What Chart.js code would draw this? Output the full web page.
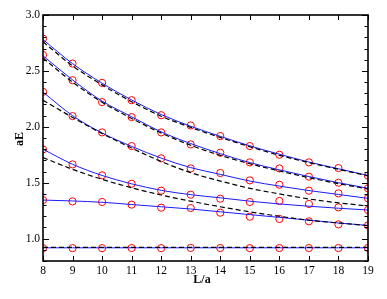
<!DOCTYPE html>
<html>
<head>
<meta charset="utf-8">
<script src="https://cdn.jsdelivr.net/npm/chart.js@4/dist/chart.umd.min.js"></script>
<style>
  body { margin: 0; background: #fff; }
  canvas { display: block; }
</style>
</head>
<body>
<canvas id="levels" width="387" height="299"></canvas>
<script>
// lattice sizes L/a
var sizes = [8, 9, 10, 11, 12, 13, 14, 15, 16, 17, 18, 19];

// measured energies (red circles), one list per level
var levelA = [2.789, 2.566, 2.393, 2.238, 2.104, 2.012, 1.917, 1.828, 1.750, 1.682, 1.631, 1.563];
var levelB = [2.643, 2.417, 2.221, 2.087, 1.950, 1.843, 1.768, 1.682, 1.628, 1.554, 1.500, 1.450];
var levelC = [2.313, 2.096, 1.950, 1.828, 1.718, 1.628, 1.587, 1.521, 1.482, 1.429, 1.405, 1.360];
var levelD = [1.798, 1.664, 1.566, 1.491, 1.429, 1.393, 1.357, 1.328, 1.337, 1.310, 1.280, 1.256];
var levelE = [1.345, 1.333, 1.328, 1.304, 1.277, 1.274, 1.232, 1.196, 1.176, 1.155, 1.128, 1.118];
var levelF = [0.915, 0.915, 0.915, 0.916, 0.915, 0.917, 0.916, 0.915, 0.916, 0.916, 0.916, 0.917];

// fitted curves (blue)
var fitA = [2.780, 2.565, 2.390, 2.240, 2.110, 2.005, 1.915, 1.830, 1.755, 1.685, 1.625, 1.565];
var fitB = [2.635, 2.420, 2.230, 2.090, 1.955, 1.850, 1.760, 1.680, 1.615, 1.555, 1.500, 1.450];
var fitC = [2.310, 2.100, 1.945, 1.825, 1.720, 1.635, 1.575, 1.515, 1.470, 1.430, 1.395, 1.360];
var fitD = [1.800, 1.665, 1.565, 1.490, 1.432, 1.393, 1.365, 1.335, 1.310, 1.290, 1.272, 1.256];
var fitE = [1.345, 1.337, 1.325, 1.305, 1.285, 1.265, 1.240, 1.215, 1.190, 1.165, 1.140, 1.118];
var fitF = [0.918, 0.918, 0.918, 0.918, 0.918, 0.918, 0.918, 0.918, 0.918, 0.918, 0.918, 0.918];

// dashed reference curves (black)
var dashA = [2.760, 2.545, 2.375, 2.225, 2.095, 1.995, 1.905, 1.822, 1.745, 1.680, 1.620, 1.562];
var dashB = [2.615, 2.400, 2.220, 2.075, 1.945, 1.835, 1.745, 1.670, 1.605, 1.545, 1.492, 1.445];
var dashC = [2.238, 2.084, 1.940, 1.810, 1.690, 1.590, 1.515, 1.450, 1.400, 1.355, 1.320, 1.292];
var dashD = [1.725, 1.620, 1.530, 1.455, 1.390, 1.335, 1.285, 1.240, 1.200, 1.165, 1.140, 1.116];
var dashF = [0.922, 0.922, 0.922, 0.922, 0.922, 0.922, 0.922, 0.922, 0.922, 0.922, 0.922, 0.922];

var yTicks = [1.0, 1.5, 2.0, 2.5, 3.0];

function pts(arr) {
    return sizes.map((x, i) => ({ x: x, y: arr[i] }));
}

function circles(arr) {
    return {
        data: pts(arr),
        showLine: false,
        pointStyle: 'circle',
        pointRadius: 3.6,
        pointBorderWidth: 1,
        pointBorderColor: '#ff0000',
        pointBackgroundColor: 'rgba(0,0,0,0)',
    };
}

function fit(arr) {
    return {
        data: pts(arr),
        showLine: true,
        borderColor: '#1a1aff',
        borderWidth: 1,
        pointRadius: 0,
        cubicInterpolationMode: 'monotone',
    };
}

function dashed(arr) {
    return {
        data: pts(arr),
        showLine: true,
        borderColor: '#000000',
        borderWidth: 1.2,
        borderDash: [5, 3],
        pointRadius: 0,
        cubicInterpolationMode: 'monotone',
    };
}

// frame, inward ticks and axis titles
const frame = {
    id: 'frame',
    afterDatasetsDraw(chart) {
        const ctx = chart.ctx;
        const a = chart.chartArea;
        const xs = chart.scales.x;
        const ys = chart.scales.y;
        ctx.save();
        ctx.strokeStyle = '#000';
        ctx.lineWidth = 1;
        ctx.beginPath();
        for (let v = 8; v <= 19; v++) {
            const px = Math.round(xs.getPixelForValue(v)) + 0.5;
            ctx.moveTo(px, a.bottom); ctx.lineTo(px, a.bottom - 5);
            ctx.moveTo(px, a.top); ctx.lineTo(px, a.top + 5);
        }
        for (let k = 8; k <= 30; k++) {
            const v = k / 10;
            const py = Math.round(ys.getPixelForValue(v)) + 0.5;
            const len = (k % 5 === 0) ? 6 : 3.5;
            ctx.moveTo(a.left, py); ctx.lineTo(a.left + len, py);
            ctx.moveTo(a.right, py); ctx.lineTo(a.right - len, py);
        }
        ctx.stroke();
        ctx.lineWidth = 1.6;
        ctx.strokeRect(a.left, a.top, a.right - a.left, a.bottom - a.top);

        ctx.fillStyle = '#000';
        ctx.font = 'bold 12px "Liberation Serif"';
        ctx.textAlign = 'center';
        ctx.textBaseline = 'middle';
        ctx.fillText('L/a', 202, 280);
        ctx.translate(20, 139);
        ctx.rotate(-Math.PI / 2);
        ctx.fillText('aE', 0, 0);
        ctx.restore();
    }
};

new Chart(document.getElementById('levels'), {
    type: 'scatter',
    data: {
        datasets: [
            dashed(dashA), dashed(dashB), dashed(dashC), dashed(dashD), dashed(dashF),
            fit(fitA), fit(fitB), fit(fitC), fit(fitD), fit(fitE), fit(fitF),
            circles(levelA), circles(levelB), circles(levelC),
            circles(levelD), circles(levelE), circles(levelF),
        ],
    },
    options: {
        responsive: false,
        animation: false,
        layout: { padding: { top: 15, right: 19, left: 0, bottom: 0 } },
        plugins: {
            legend: { display: false },
            tooltip: { enabled: false },
        },
        scales: {
            x: {
                type: 'linear',
                min: 8,
                max: 19,
                afterFit(scale) { scale.height = 38; },
                grid: { display: false, drawTicks: false },
                border: { display: false },
                ticks: {
                    stepSize: 1,
                    padding: 3,
                    color: '#000',
                    font: { family: 'Liberation Serif', size: 11.5 },
                },
            },
            y: {
                type: 'linear',
                min: 0.8,
                max: 3.0,
                afterFit(scale) { scale.width = 43; },
                afterBuildTicks(scale) {
                    scale.ticks = yTicks.map(v => ({ value: v }));
                },
                grid: { display: false, drawTicks: false },
                border: { display: false },
                ticks: {
                    padding: 3,
                    color: '#000',
                    font: { family: 'Liberation Serif', size: 11.5 },
                    callback: v => v.toFixed(1),
                },
            },
        },
    },
    plugins: [frame],
});
</script>
</body>
</html>
